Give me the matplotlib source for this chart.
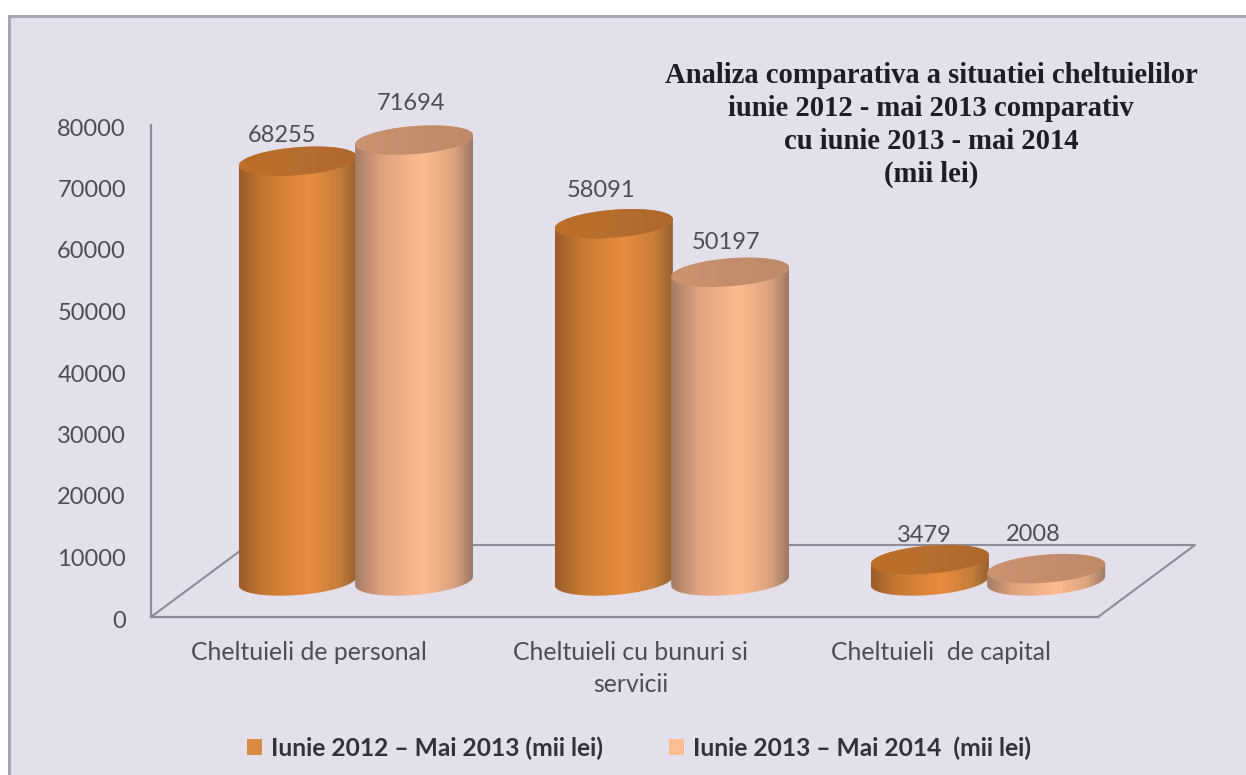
import numpy as np
import matplotlib
matplotlib.use("Agg")
import matplotlib.pyplot as plt
from matplotlib.colors import LinearSegmentedColormap
from matplotlib.patches import Polygon, Patch, Rectangle
from matplotlib.lines import Line2D
from matplotlib.transforms import ScaledTranslation

# ---- data ----
categories = ["Cheltuieli de personal", "Cheltuieli cu bunuri si\nservicii", "Cheltuieli  de capital"]
series_names = ["Iunie 2012 \u2013 Mai 2013 (mii lei)", "Iunie 2013 \u2013 Mai 2014  (mii lei)"]
values_2012 = [68255, 58091, 3479]
values_2013 = [71694, 50197, 2008]
y_ticks = [0, 10000, 20000, 30000, 40000, 50000, 60000, 70000, 80000]
title_text = ("Analiza comparativa a situatiei cheltuielilor\n"
              "iunie 2012 - mai 2013 comparativ\n"
              "cu iunie 2013 - mai 2014\n"
              "(mii lei)")

# ---- style ----
W, H = 1246, 775
BG = "#E3DFEB"
LINE = "#8E8C9A"
TXT = "#4E4C58"
plt.rcParams["font.family"] = ["Lato", "DejaVu Sans"]

fig = plt.figure(figsize=(W / 100, H / 100), dpi=100, facecolor="white")
fig.patches.append(Rectangle((9 / W, -0.01), 1.02, 1 - 16 / H + 0.01, transform=fig.transFigure,
                             facecolor=BG, edgecolor="#A8A6B4", linewidth=2.2, zorder=-5))

left, right, top, bottom = 151, 1098, 125, 617
ax = fig.add_axes([left / W, 1 - bottom / H, (right - left) / W, (bottom - top) / H])
ax.set_zorder(2)
ax.patch.set_visible(False)
group_px = 316.0
x0 = 356.0
xlim = ((left - x0) / group_px, (right - x0) / group_px)
ax.set_xlim(*xlim)
ax.set_ylim(0, 80000)
for s in ("top", "right"):
    ax.spines[s].set_visible(False)
for s in ("left", "bottom"):
    ax.spines[s].set_color(LINE)
    ax.spines[s].set_linewidth(1.6)

# floor of the 3D box, in axes fractions
dx, dy = 97 / (right - left), 72 / (bottom - top)
ax.add_line(Line2D([0, dx, 1 + dx, 1], [0, dy, dy, 0], transform=ax.transAxes,
                   color=LINE, lw=1.5, clip_on=False, zorder=1))

cmap_dark = LinearSegmentedColormap.from_list("d", [(0, "#9A5C28"), (.22, "#C67934"), (.58, "#E88C3E"),
                                                    (.85, "#C77E3C"), (1, "#96602F")])
cmap_dark_cap = LinearSegmentedColormap.from_list("dc", [(0, "#BE6F28"), (.5, "#B66E30"), (1, "#B0682A")])
cmap_light = LinearSegmentedColormap.from_list("l", [(0, "#A47C64"), (.22, "#DDA27E"), (.58, "#FFBC91"),
                                                     (.85, "#D8A27E"), (1, "#9C7865")])
cmap_light_cap = LinearSegmentedColormap.from_list("lc", [(0, "#CC9370"), (.5, "#C48E6C"), (1, "#BE8A68")])

half_w = 59 / group_px           # half bar width in x units
bar_offset = 0.184               # centre offset of each bar from group centre
base = 36 / (bottom - top) * 80000    # 3D depth of the bars above the axis line
b = 14 / (bottom - top) * 80000       # ellipse half height
k = 4.5 / (bottom - top) * 80000      # tilt of the ellipse


def gradient(poly_xy, cx, cmap, ymin, ymax, z):
    grad = np.linspace(0, 1, 256).reshape(1, -1)
    im = ax.imshow(grad, extent=(cx - half_w, cx + half_w, ymin, ymax), cmap=cmap,
                   aspect="auto", origin="lower", zorder=z, interpolation="bilinear")
    im.set_clip_path(Polygon(poly_xy, closed=True, transform=ax.transData))
    im.set_clip_box(fig.bbox)


def cylinder(cx, value, cmap, cmap_cap, z):
    t = np.linspace(0, 2 * np.pi, 181)
    ex, ey = half_w * np.cos(t), b * np.sin(t) + k * np.cos(t)
    y_top = base + value
    lower = t >= np.pi
    upper = t <= np.pi
    body = np.vstack([np.column_stack([cx + ex[lower], base + ey[lower]]),
                      np.column_stack([cx + ex[upper], y_top + ey[upper]])])
    cap = np.column_stack([cx + ex, y_top + ey])
    gradient(body, cx, cmap, base - 2 * b, y_top + 2 * b, z)
    gradient(cap, cx, cmap_cap, y_top - 2 * b, y_top + 2 * b, z + 0.5)


xs = np.arange(len(categories), dtype=float)
off_a = [(-16, 26), (-13, 33), (-5, 24)]
off_b = [(-3, 37), (-4, 30), (-13, 34)]
label_shift = [-0.15, -0.13, -0.149]
z = 2
for i, v in enumerate(values_2012):
    cylinder(xs[i] - bar_offset, v, cmap_dark, cmap_dark_cap, z)
    z += 1
for i, v in enumerate(values_2013):
    cylinder(xs[i] + bar_offset, v, cmap_light, cmap_light_cap, z)
    z += 1

for i, (v, o) in enumerate(zip(values_2012, off_a)):
    ax.annotate(str(v), (xs[i] - bar_offset, base + v), xytext=(o[0] * .72, o[1] * .72),
                textcoords="offset points", ha="center", va="center", fontsize=17, color=TXT, zorder=30)
for i, (v, o) in enumerate(zip(values_2013, off_b)):
    ax.annotate(str(v), (xs[i] + bar_offset, base + v), xytext=(o[0] * .72, o[1] * .72),
                textcoords="offset points", ha="center", va="center", fontsize=17, color=TXT, zorder=30)

ax.set_xlim(*xlim)
ax.set_ylim(0, 80000)
ax.set_yticks(y_ticks, [str(v) for v in y_ticks])
ax.tick_params(axis="y", length=0, pad=18, labelsize=17, labelcolor=TXT)
for lab in ax.get_yticklabels():
    lab.set_transform(lab.get_transform() + ScaledTranslation(0, -2 / 100, fig.dpi_scale_trans))
ax.set_xticks(xs + np.array(label_shift), categories)
ax.tick_params(axis="x", length=0, pad=17, labelsize=17.8, labelcolor=TXT)
for lab in ax.get_xticklabels():
    lab.set_linespacing(1.48)

fig.text(931 / W, 1 - 62 / H, title_text, ha="center", va="top", family="Liberation Serif",
         fontweight="bold", fontsize=20.6, color="#1E1C26", linespacing=1.28)

handles = [Patch(facecolor="#D98A43", label=series_names[0]),
           Patch(facecolor="#FBBD93", label=series_names[1])]
fig.legend(handles=handles, loc="center", bbox_to_anchor=(639 / W, 1 - 748 / H), ncol=2, frameon=False,
           prop={"family": "Lato", "weight": "bold", "size": 17.7}, handlelength=0.62, handleheight=0.62,
           handletextpad=0.35, columnspacing=2.7, labelcolor="#33313B")

fig.savefig("out.png", dpi=100, facecolor="white")
